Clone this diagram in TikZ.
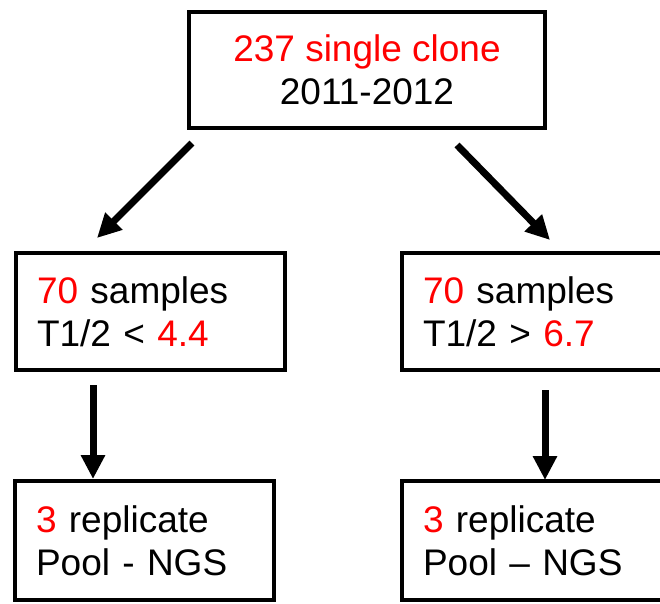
\documentclass[tikz,border=0pt]{standalone}
\usepackage{fontspec}
\setmainfont{Liberation Sans}
\usetikzlibrary{arrows.meta}
\tikzset{
  box/.style={draw, line width=4.5pt, inner xsep=21pt, inner ysep=0pt, align=left,
    font=\fontsize{37}{43}\selectfont},
  bigarrow/.style={line width=7pt, -{Triangle[width=23pt,length=24pt]}}
}
\begin{document}
\begin{tikzpicture}[x=1pt,y=-1pt]
  \useasboundingbox (0,0) rectangle (660,603);
  % boxes
  \node[box, align=center, minimum width=356pt, minimum height=116pt] (top) at (367,70)
    {\textcolor{red}{237 single clone}\\2011-2012};
  \node[box, text width=227pt, minimum height=117pt] (midL) at (150.5,311.5)
    {\textcolor{red}{70} samples\\T1/2 < \textcolor{red}{4.4}};
  \node[box, text width=228pt, minimum height=117pt] (midR) at (537,311.5)
    {\textcolor{red}{70} samples\\T1/2 > \textcolor{red}{6.7}};
  \node[box, text width=217pt, minimum height=119pt] (botL) at (144.5,540.5)
    {\textcolor{red}{3} replicate\\Pool - NGS};
  \node[box, text width=228pt, minimum height=119pt] (botR) at (537,540.5)
    {\textcolor{red}{3} replicate\\Pool -- NGS};
  % arrows
  \coordinate (splitL) at (192,143);
  \coordinate (tipL) at (97,238);
  \coordinate (splitR) at (457,145);
  \coordinate (tipR) at (550,240);
  \coordinate (downL) at (93,385);
  \coordinate (downLtip) at (93,479);
  \coordinate (downR) at (545,390);
  \coordinate (downRtip) at (545,480);
  \draw[bigarrow] (splitL) -- (tipL);
  \draw[bigarrow] (splitR) -- (tipR);
  \draw[bigarrow] (downL) -- (downLtip);
  \draw[bigarrow] (downR) -- (downRtip);
\end{tikzpicture}
\end{document}
